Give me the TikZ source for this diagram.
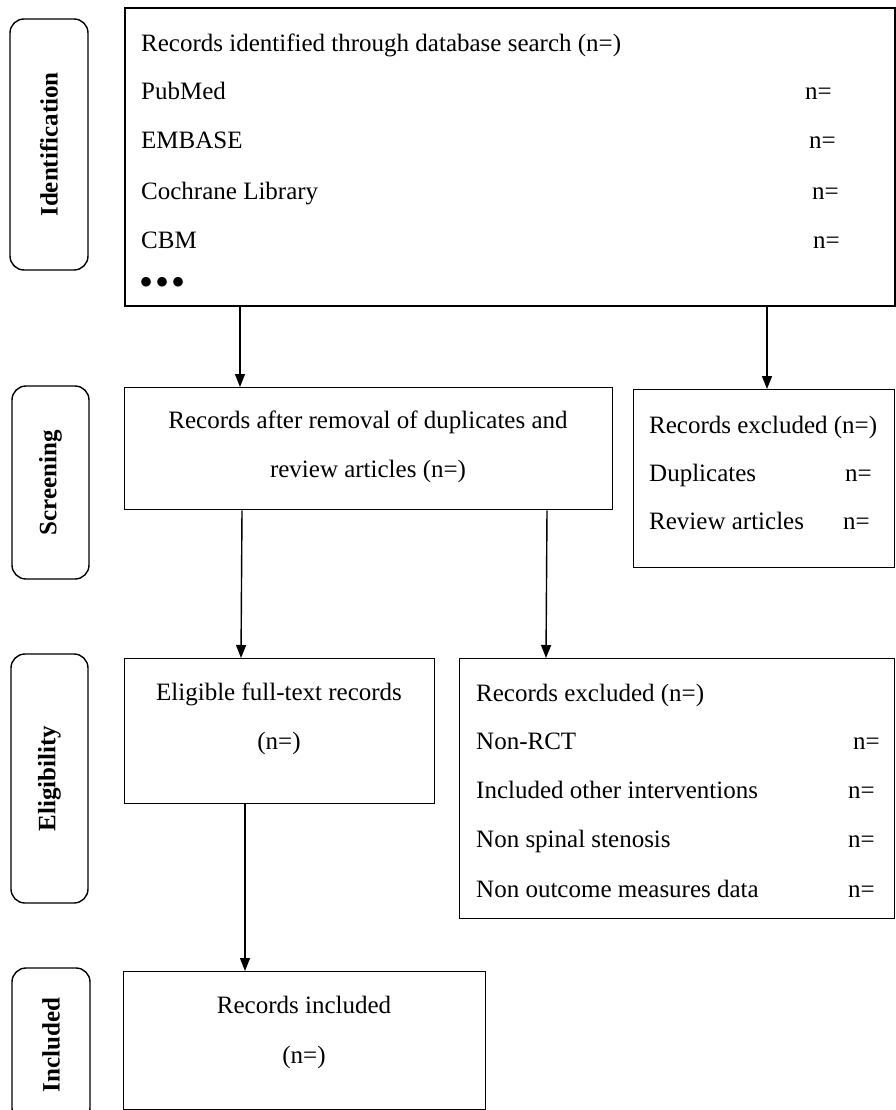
\documentclass[tikz,border=0pt]{standalone}
\usepackage{fontspec}
\setmainfont{Liberation Serif}
\usetikzlibrary{arrows.meta,positioning}

\begin{document}
\begin{tikzpicture}[x=1pt,y=-1pt,node font=\fontsize{25}{30}\selectfont,>={Triangle[width=10pt,length=13pt]}]
	\tikzstyle{stage}=[draw,line width=1.4pt,rounded corners=14pt,rotate=90,font=\bfseries,inner sep=0pt]
	\tikzstyle{box}=[draw,line width=1.4pt,anchor=north west,inner sep=0pt]
	\tikzstyle{txt}=[anchor=base west,inner sep=0pt]
	\tikzstyle{ctxt}=[anchor=base,inner sep=0pt]
	\useasboundingbox (0,0) rectangle (896,1110);
	
	% stage labels on the left
	\node[stage,minimum width=251pt,minimum height=78pt] (IDENT)  at (49,144.5)  {Identification};
	\node[stage,minimum width=193pt,minimum height=77pt] (SCREEN) at (50.5,482.5) {Screening};
	\node[stage,minimum width=249pt,minimum height=77pt] (ELIG)   at (49.5,778.5) {Eligibility};
	\node[stage,minimum width=154pt,minimum height=78pt] (INCL)   at (51,1045)    {Included};
	
	% boxes
	\node[box,line width=1.8pt,minimum width=770pt,minimum height=298pt] (RID)  at (124,7)   {};
	\node[box,minimum width=488pt,minimum height=122pt] (RAR)  at (124,387) {};
	\node[box,minimum width=261pt,minimum height=178pt] (REX1) at (633,389) {};
	\node[box,minimum width=310pt,minimum height=145pt] (EFT)  at (124,658) {};
	\node[box,minimum width=435pt,minimum height=260pt] (REX2) at (459,658) {};
	\node[box,minimum width=362pt,minimum height=138pt] (RINC) at (123,971) {};
	
	% identification
	\node[txt] (RIDT) at (141,52)  {Records identified through database search (n=)};
	\node[txt] (PM)   at (141,100) {PubMed};
	\node[txt] (PMN)  at (805,100) {n=};
	\node[txt] (EMB)  at (141,149) {EMBASE};
	\node[txt] (EMBN) at (809,149) {n=};
	\node[txt] (CL)   at (141,199) {Cochrane Library};
	\node[txt] (CLN)  at (812,199) {n=};
	\node[txt] (CBM)  at (141,248) {CBM};
	\node[txt] (CBMN) at (813,248) {n=};
	\node[txt,font=\fontsize{40}{40}\selectfont] (DOTS) at (139,295) {•\hspace{2pt}•\hspace{2pt}•};
	
	% screening
	\node[ctxt] (RART1) at (368,428) {Records after removal of duplicates and};
	\node[ctxt] (RART2) at (368,477) {review articles (n=)};
	\node[txt] (REX1T) at (649,433) {Records excluded (n=)};
	\node[txt] (DUP)   at (649,481) {Duplicates};
	\node[txt] (DUPN)  at (845,481) {n=};
	\node[txt] (REV)   at (649,529) {Review articles};
	\node[txt] (REVN)  at (843,529) {n=};
	
	% eligibility
	\node[ctxt] (EFTT1) at (279,700) {Eligible full-text records};
	\node[ctxt] (EFTT2) at (279,749) {(n=)};
	\node[txt] (REX2T) at (476,701) {Records excluded (n=)};
	\node[txt] (NRCT)  at (476,749) {Non-RCT};
	\node[txt] (NRCTN) at (853,749) {n=};
	\node[txt] (IOI)   at (476,798) {Included other interventions};
	\node[txt] (IOIN)  at (848,798) {n=};
	\node[txt] (NSS)   at (476,847) {Non spinal stenosis};
	\node[txt] (NSSN)  at (848,847) {n=};
	\node[txt] (NOM)   at (476,897) {Non outcome measures data};
	\node[txt] (NOMN)  at (848,897) {n=};
	
	% included
	\node[ctxt] (RINCT1) at (304,1013) {Records included};
	\node[ctxt] (RINCT2) at (304,1063) {(n=)};
	
	\path[->,line width=1.4pt]
	([xshift=116pt]RID.south west) edge ([xshift=116pt]RAR.north west)
	([xshift=643pt]RID.south west) edge ([xshift=134pt]REX1.north west)
	([xshift=118pt]RAR.south west) edge ([xshift=117pt]EFT.north west)
	([xshift=423pt]RAR.south west) edge ([xshift=87pt]REX2.north west)
	([xshift=121pt]EFT.south west) edge ([xshift=122pt]RINC.north west);
\end{tikzpicture}
\end{document}
